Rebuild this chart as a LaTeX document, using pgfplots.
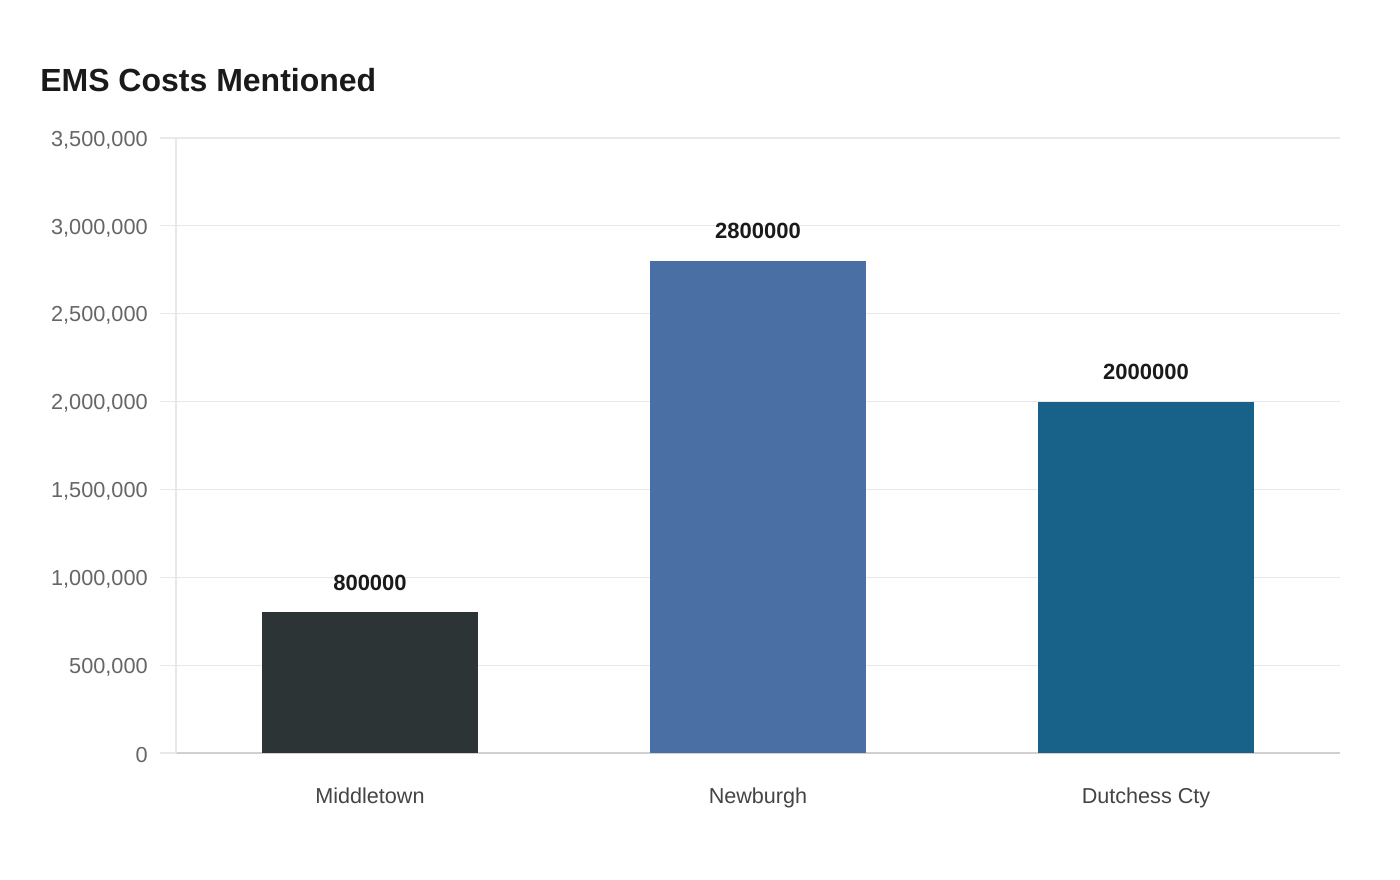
\documentclass[border=0pt]{standalone}
\usepackage{pgfplots}
\pgfplotsset{compat=1.18}
\usepackage{fontspec}
\setmainfont{Liberation Sans}
\definecolor{cMid}{HTML}{2D3436}
\definecolor{cNew}{HTML}{4A6FA5}
\definecolor{cDut}{HTML}{186188}
\definecolor{gridc}{HTML}{E8E8E8}
\definecolor{axisc}{HTML}{D0D0D0}
\definecolor{tickc}{HTML}{666666}
\definecolor{xlabc}{HTML}{444444}
\definecolor{titlec}{HTML}{1A1A1A}
\begin{document}
\begin{tikzpicture}
\useasboundingbox (0,0) rectangle (1050pt,660pt);
\node[anchor=base west, inner sep=0pt, text=titlec, font=\fontsize{24}{28}\selectfont\bfseries] at (30pt,591pt) {EMS Costs Mentioned};
\begin{axis}[
  at={(132pt,95.25pt)}, anchor=south west,
  scale only axis, width=873pt, height=461.25pt,
  xmin=-0.5, xmax=2.5, ymin=0, ymax=3500000,
  ybar, bar width=162pt,
  xtick={0,1,2}, xticklabels={Middletown,Newburgh,Dutchess Cty},
  ytick={0,500000,1000000,1500000,2000000,2500000,3000000,3500000},
  scaled y ticks=false,
  /pgf/number format/.cd, fixed, 1000 sep={,}, assume math mode=true, /pgfplots/.cd,
  ymajorgrids, grid style={gridc, line width=0.9pt},
  axis x line*=bottom, axis y line*=left,
  x axis line style={axisc, line width=1pt, -},
  y axis line style={gridc, line width=1pt, -},
  major x tick style={draw=none},
  major y tick style={gridc, line width=0.9pt},
  tick align=outside, major tick length=12pt,
  yticklabel style={font=\fontsize{16.3}{19}\selectfont, text=tickc, inner sep=0pt, xshift=-9pt, yshift=-1.5pt},
  xticklabel style={font=\fontsize{16.2}{19}\selectfont, text=xlabc, inner sep=0pt, yshift=-14pt},
  nodes near coords, point meta=explicit symbolic,
  every node near coord/.append style={font=\fontsize{16.5}{19}\selectfont\bfseries, text=titlec, anchor=base, yshift=16.5pt, inner sep=0pt},
  clip=false,
]
\addplot[fill=cMid, draw=none, bar shift=0pt] coordinates {(0,800000) [800000]};
\addplot[fill=cNew, draw=none, bar shift=0pt] coordinates {(1,2800000) [2800000]};
\addplot[fill=cDut, draw=none, bar shift=0pt] coordinates {(2,2000000) [2000000]};
\end{axis}
\end{tikzpicture}
\end{document}
